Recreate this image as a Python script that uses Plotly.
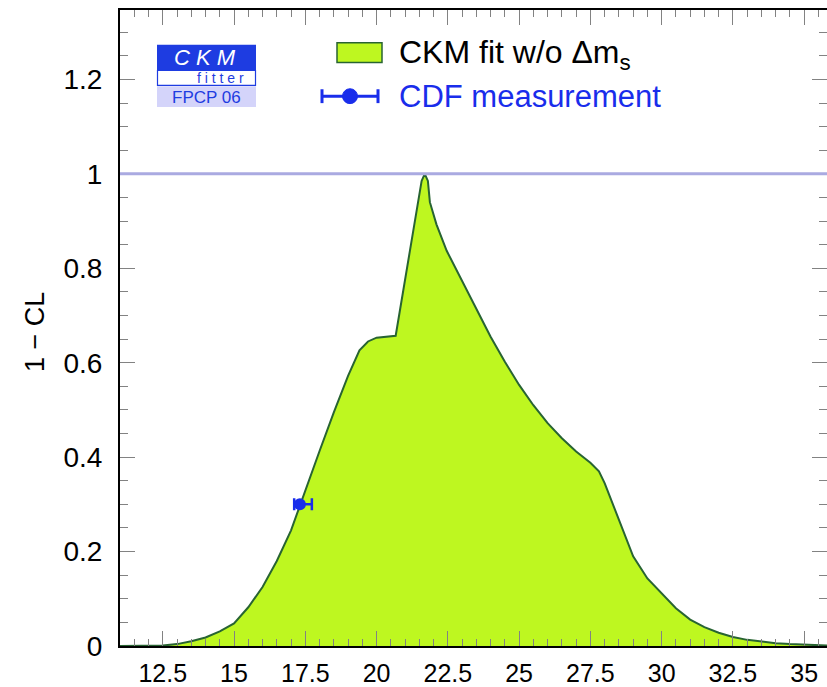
import plotly.graph_objects as go

# ---- data ----
dms = [11.0, 12.0, 12.5, 13.0, 13.5, 14.0, 14.5, 15.0, 15.5, 16.0, 16.5, 17.0, 17.5,
       18.0, 18.5, 19.0, 19.4, 19.7, 20.0, 20.4, 20.67, 20.72, 21.0, 21.3, 21.58,
       21.69, 21.8, 21.87, 22.1, 22.46, 23.0, 23.5, 24.0, 24.5, 25.0, 25.5, 26.0,
       26.5, 27.0, 27.5, 27.8, 28.0, 28.5, 29.0, 29.5, 30.0, 30.5, 31.0, 31.5,
       32.0, 32.5, 33.0, 33.5, 34.0, 34.5, 35.0, 35.8]
one_minus_cl = [0.0, 0.0003, 0.001, 0.004, 0.01, 0.018, 0.031, 0.048, 0.082, 0.125,
                0.18, 0.245, 0.33, 0.413, 0.495, 0.572, 0.626, 0.645, 0.653, 0.655,
                0.657, 0.675, 0.775, 0.88, 0.985, 1.0, 0.985, 0.94, 0.893, 0.837,
                0.772, 0.713, 0.655, 0.602, 0.553, 0.51, 0.472, 0.44, 0.412, 0.388,
                0.37, 0.345, 0.268, 0.19, 0.143, 0.112, 0.08, 0.056, 0.04, 0.028,
                0.019, 0.013, 0.009, 0.006, 0.004, 0.0025, 0.001]

cdf_x = [17.31]
cdf_y = [0.30]
cdf_err_plus = [0.42]
cdf_err_minus = [0.20]

x_ticks = [12.5, 15, 17.5, 20, 22.5, 25, 27.5, 30, 32.5, 35]
x_ticklabels = ["12.5", "15", "17.5", "20", "22.5", "25", "27.5", "30", "32.5", "35"]
y_ticks = [0, 0.2, 0.4, 0.6, 0.8, 1.0, 1.2]
y_ticklabels = ["0", "0.2", "0.4", "0.6", "0.8", "1", "1.2"]

# ---- geometry (pixels) ----
W, H = 827, 687
L, R, T, B = 120, 0, 10, 35
PW, PH = W - L - R, H - T - B
XR = [11.0, 35.8]
YR = [0, 1.347]


def px(x):
    return (x - L) / PW


def py(y):
    return (H - B - y) / PH


LIME = "rgb(190,247,32)"
DKGREEN = "rgb(40,100,50)"
BLUE = "rgb(25,45,235)"
LOGO_BLUE = "rgb(30,60,225)"
TICKC = "rgb(130,130,130)"
FONT = "Liberation Sans, Arial, Helvetica, sans-serif"

fig = go.Figure()

fig.add_trace(go.Scatter(
    x=dms, y=one_minus_cl, mode="lines", fill="tozeroy",
    fillcolor=LIME, line=dict(color=DKGREEN, width=2),
    showlegend=False, hoverinfo="skip"))

fig.add_trace(go.Scatter(
    x=cdf_x, y=cdf_y, mode="markers",
    marker=dict(color=BLUE, size=12),
    error_x=dict(type="data", symmetric=False, array=cdf_err_plus,
                 arrayminus=cdf_err_minus, color=BLUE, thickness=2.5, width=6),
    showlegend=False))

# invisible trace so the right-hand tick axis is drawn
fig.add_trace(go.Scatter(x=[XR[0]], y=[0], yaxis="y2", mode="markers",
                         marker=dict(opacity=0), showlegend=False, hoverinfo="skip"))

shapes = []
annotations = []

# horizontal line at 1
shapes.append(dict(type="line", xref="paper", yref="y", x0=0, x1=1, y0=1, y1=1,
                   line=dict(color="rgb(170,170,225)", width=3), layer="above"))

# legend: green box
shapes.append(dict(type="rect", xref="paper", yref="paper",
                   x0=px(337), x1=px(382), y0=py(63), y1=py(43),
                   fillcolor=LIME, line=dict(color=DKGREEN, width=1.5)))
annotations.append(dict(xref="paper", yref="paper", x=px(397), y=py(55),
                        xanchor="left", yanchor="middle", showarrow=False,
                        text="CKM fit w/o Δm<sub>s</sub>",
                        font=dict(family=FONT, size=32, color="black")))
# legend: CDF symbol
shapes.append(dict(type="line", xref="paper", yref="paper",
                   x0=px(322), x1=px(378), y0=py(97), y1=py(97),
                   line=dict(color=BLUE, width=3)))
for cx in (322, 378):
    shapes.append(dict(type="line", xref="paper", yref="paper",
                       x0=px(cx), x1=px(cx), y0=py(90), y1=py(104),
                       line=dict(color=BLUE, width=3)))
shapes.append(dict(type="circle", xref="paper", yref="paper",
                   x0=px(342.5), x1=px(357.5), y0=py(104.5), y1=py(89.5),
                   fillcolor=BLUE, line=dict(color=BLUE, width=1)))
annotations.append(dict(xref="paper", yref="paper", x=px(397), y=py(97),
                        xanchor="left", yanchor="middle", showarrow=False,
                        text="CDF measurement",
                        font=dict(family=FONT, size=31, color=BLUE)))

# logo
shapes.append(dict(type="rect", xref="paper", yref="paper",
                   x0=px(157), x1=px(256), y0=py(71), y1=py(45),
                   fillcolor=LOGO_BLUE, line=dict(width=0)))
shapes.append(dict(type="rect", xref="paper", yref="paper",
                   x0=px(157.5), x1=px(255.5), y0=py(86), y1=py(71),
                   fillcolor="white", line=dict(color=LOGO_BLUE, width=1.2)))
shapes.append(dict(type="rect", xref="paper", yref="paper",
                   x0=px(157), x1=px(256), y0=py(108), y1=py(87),
                   fillcolor="rgb(212,212,250)", line=dict(width=0)))
annotations.append(dict(xref="paper", yref="paper", x=px(205), y=py(58),
                        xanchor="center", yanchor="middle", showarrow=False,
                        text="<i>C K M</i>",
                        font=dict(family=FONT, size=22, color="white")))
annotations.append(dict(xref="paper", yref="paper", x=px(246), y=py(79),
                        xanchor="right", yanchor="middle", showarrow=False,
                        text="f i t t e r",
                        font=dict(family=FONT, size=14, color=LOGO_BLUE)))
annotations.append(dict(xref="paper", yref="paper", x=px(206), y=py(98),
                        xanchor="center", yanchor="middle", showarrow=False,
                        text="FPCP 06",
                        font=dict(family=FONT, size=17, color=LOGO_BLUE)))

# y-axis title
annotations.append(dict(xref="paper", yref="paper", x=px(35), y=py(335),
                        xanchor="center", yanchor="middle", showarrow=False,
                        textangle=-90, text="1 − CL",
                        font=dict(family=FONT, size=27, color="black")))

ymin = dict(dtick=0.05, tick0=0, ticks="inside", ticklen=8,
            tickwidth=1.2, tickcolor=TICKC, showgrid=False)

fig.update_layout(
    width=W, height=H,
    margin=dict(l=L, r=R, t=T, b=B, pad=0),
    paper_bgcolor="white", plot_bgcolor="white",
    shapes=shapes, annotations=annotations,
    font=dict(family=FONT, color="black"),
    xaxis=dict(range=XR, tickvals=x_ticks, ticktext=x_ticklabels,
               ticks="inside", ticklen=15, tickwidth=1.2, tickcolor=TICKC,
               showline=True, linecolor="black", linewidth=2, mirror="ticks",
               showgrid=False, zeroline=False, ticklabelstandoff=4,
               tickfont=dict(family=FONT, size=25, color="black"),
               minor=dict(dtick=0.5, tick0=0, ticks="inside", ticklen=7,
                          tickwidth=1.2, tickcolor=TICKC, showgrid=False)),
    yaxis=dict(range=YR, tickvals=y_ticks, ticktext=y_ticklabels,
               ticks="inside", ticklen=15, tickwidth=1.2, tickcolor=TICKC,
               showline=True, linecolor="black", linewidth=2, mirror=False,
               showgrid=False, zeroline=False, ticklabelstandoff=10,
               tickfont=dict(family=FONT, size=28, color="black"),
               minor=ymin),
    yaxis2=dict(range=YR, overlaying="y", side="right", tickvals=y_ticks,
                ticks="inside", ticklen=15, tickwidth=1.2, tickcolor=TICKC,
                showticklabels=False, showline=False, showgrid=False,
                zeroline=False, minor=ymin),
)

fig.write_html("out.html")
